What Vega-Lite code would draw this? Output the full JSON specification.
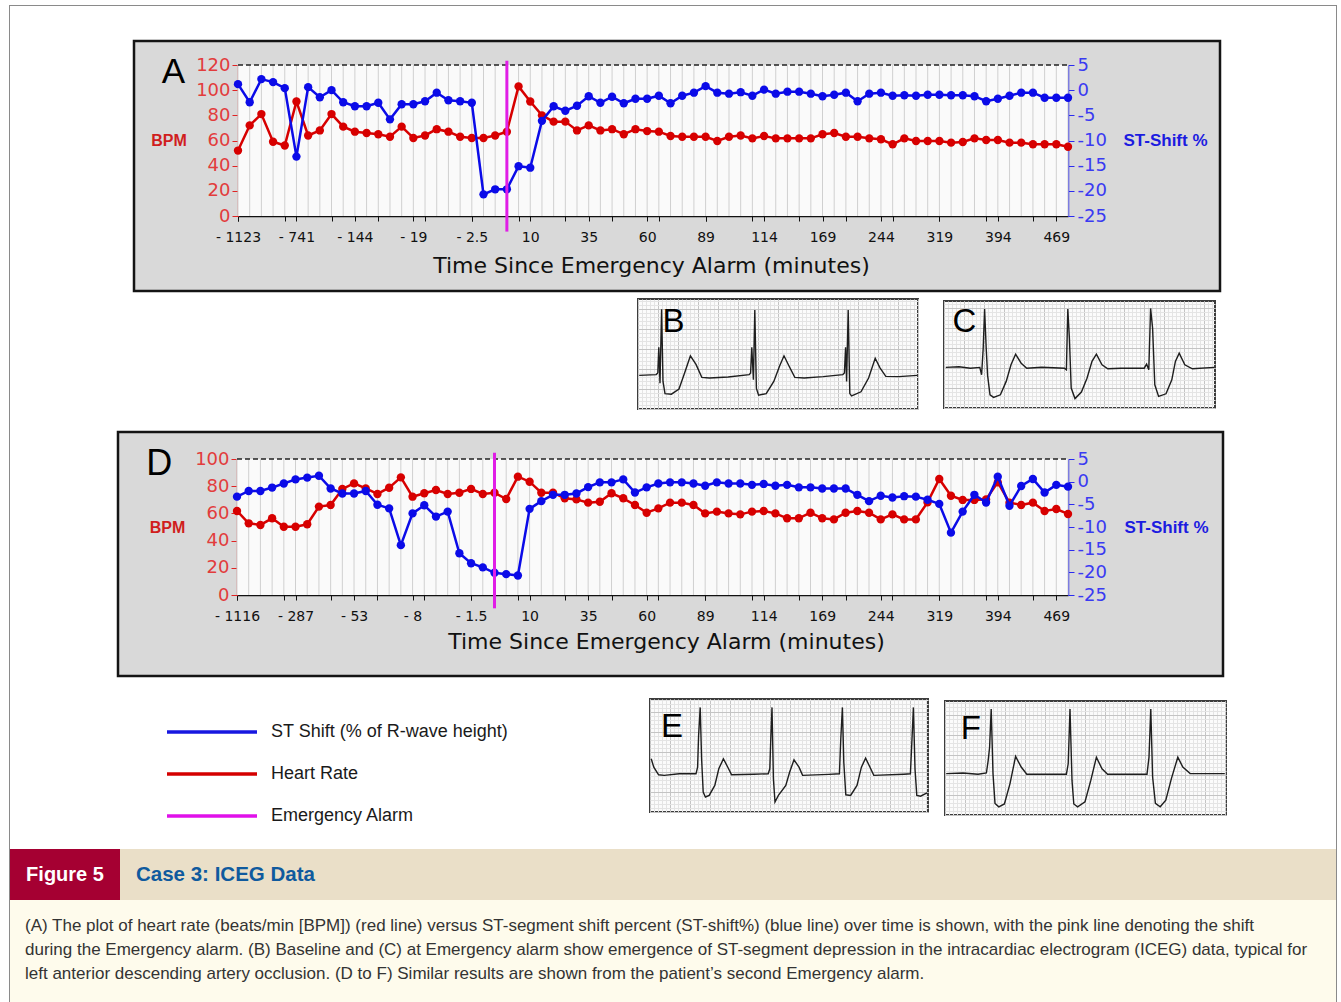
{
"$schema": "https://vega.github.io/schema/vega-lite/v6.json",
"padding": 0,
"background": "#ffffff",
"autosize": {"type": "pad"},
"config": {"view": {"stroke": null}, "font": "Liberation Sans", "concat": {"spacing": 0}},
"datasets": {
"panelA": [
{"i":0,"hr":52,"st":1.2},{"i":1,"hr":72,"st":-2.4},{"i":2,"hr":81,"st":2.2},{"i":3,"hr":59,"st":1.6},{"i":4,"hr":56,"st":0.4},{"i":5,"hr":91,"st":-13.2},{"i":6,"hr":64,"st":0.6},{"i":7,"hr":68,"st":-1.4},{"i":8,"hr":81,"st":0},{"i":9,"hr":71,"st":-2.4},
{"i":10,"hr":67,"st":-3.2},{"i":11,"hr":66,"st":-3.2},{"i":12,"hr":65,"st":-2.5},{"i":13,"hr":63,"st":-5.8},{"i":14,"hr":71,"st":-2.8},{"i":15,"hr":62,"st":-2.8},{"i":16,"hr":64,"st":-2.2},{"i":17,"hr":69,"st":-0.5},{"i":18,"hr":67,"st":-2},{"i":19,"hr":63,"st":-2.2},
{"i":20,"hr":62,"st":-2.5},{"i":21,"hr":62,"st":-20.7},{"i":22,"hr":64,"st":-19.7},{"i":23,"hr":67,"st":-19.7},{"i":24,"hr":103,"st":-15.1},{"i":25,"hr":91,"st":-15.4},{"i":26,"hr":80,"st":-6.1},{"i":27,"hr":75,"st":-3.2},{"i":28,"hr":75,"st":-4.1},{"i":29,"hr":68,"st":-3.1},
{"i":30,"hr":72,"st":-1.2},{"i":31,"hr":68,"st":-2.5},{"i":32,"hr":69,"st":-1.3},{"i":33,"hr":65,"st":-2.6},{"i":34,"hr":69,"st":-1.7},{"i":35,"hr":67.5,"st":-1.7},{"i":36,"hr":67,"st":-1.1},{"i":37,"hr":63.6,"st":-2.6},{"i":38,"hr":63,"st":-1.1},{"i":39,"hr":63,"st":-0.5},
{"i":40,"hr":63,"st":0.8},{"i":41,"hr":59.6,"st":-0.5},{"i":42,"hr":63,"st":-0.7},{"i":43,"hr":64,"st":-0.4},{"i":44,"hr":61.7,"st":-1.1},{"i":45,"hr":63.6,"st":0.1},{"i":46,"hr":61.7,"st":-0.7},{"i":47,"hr":61.7,"st":-0.3},{"i":48,"hr":61.7,"st":-0.3},{"i":49,"hr":61.7,"st":-0.7},
{"i":50,"hr":65,"st":-1.2},{"i":51,"hr":66,"st":-0.9},{"i":52,"hr":63,"st":-0.5},{"i":53,"hr":63,"st":-2.2},{"i":54,"hr":61.7,"st":-0.7},{"i":55,"hr":61,"st":-0.5},{"i":56,"hr":57,"st":-1.1},{"i":57,"hr":61.7,"st":-1.0},{"i":58,"hr":59.6,"st":-1.1},{"i":59,"hr":59.6,"st":-0.9},
{"i":60,"hr":59.6,"st":-0.9},{"i":61,"hr":58.3,"st":-1.0},{"i":62,"hr":58.8,"st":-1.0},{"i":63,"hr":61.7,"st":-1.2},{"i":64,"hr":60.4,"st":-2.2},{"i":65,"hr":60.4,"st":-1.7},{"i":66,"hr":58.3,"st":-1.1},{"i":67,"hr":58.3,"st":-0.5},{"i":68,"hr":57,"st":-0.5},{"i":69,"hr":57,"st":-1.5},
{"i":70,"hr":57,"st":-1.5},{"i":71,"hr":55,"st":-1.5}
],
"panelD": [
{"i":0,"hr":61.8,"st":-3.3},{"i":1,"hr":52.7,"st":-2.05},{"i":2,"hr":51.5,"st":-2.05},{"i":3,"hr":56.4,"st":-1.3},{"i":4,"hr":50.2,"st":-0.4},{"i":5,"hr":50.2,"st":0.5},{"i":6,"hr":52,"st":0.9},{"i":7,"hr":65,"st":1.3},{"i":8,"hr":66.2,"st":-1.5},{"i":9,"hr":78,"st":-2.6},
{"i":10,"hr":82.1,"st":-2.6},{"i":11,"hr":78.4,"st":-2.05},{"i":12,"hr":74.3,"st":-5.1},{"i":13,"hr":78.9,"st":-5.9},{"i":14,"hr":86.5,"st":-14.0},{"i":15,"hr":72.3,"st":-7.0},{"i":16,"hr":74.8,"st":-5.2},{"i":17,"hr":77.2,"st":-7.7},{"i":18,"hr":74.3,"st":-6.6},{"i":19,"hr":75.2,"st":-15.8},
{"i":20,"hr":78,"st":-18.0},{"i":21,"hr":74.3,"st":-18.9},{"i":22,"hr":75.2,"st":-20.1},{"i":23,"hr":70.6,"st":-20.4},{"i":24,"hr":87,"st":-20.7},{"i":25,"hr":83.3,"st":-6.0},{"i":26,"hr":75.2,"st":-4.3},{"i":27,"hr":75.2,"st":-2.9},{"i":28,"hr":71.1,"st":-2.9},{"i":29,"hr":70.3,"st":-2.6},
{"i":30,"hr":67.9,"st":-1.2},{"i":31,"hr":68.6,"st":-0.15},{"i":32,"hr":74.8,"st":-0.15},{"i":33,"hr":71.1,"st":0.5},{"i":34,"hr":66.2,"st":-2.4},{"i":35,"hr":60.5,"st":-1.25},{"i":36,"hr":63.7,"st":-0.4},{"i":37,"hr":67.9,"st":-0.15},{"i":38,"hr":67.9,"st":-0.15},{"i":39,"hr":66.2,"st":-0.4},
{"i":40,"hr":60,"st":-0.9},{"i":41,"hr":61.3,"st":-0.15},{"i":42,"hr":60,"st":-0.4},{"i":43,"hr":59.3,"st":-0.4},{"i":44,"hr":61.3,"st":-0.7},{"i":45,"hr":61.8,"st":-0.5},{"i":46,"hr":60,"st":-0.9},{"i":47,"hr":56.4,"st":-0.7},{"i":48,"hr":56.4,"st":-1.25},{"i":49,"hr":60.5,"st":-1.25},
{"i":50,"hr":56.4,"st":-1.5},{"i":51,"hr":55.6,"st":-1.5},{"i":52,"hr":60.5,"st":-1.5},{"i":53,"hr":61.8,"st":-2.9},{"i":54,"hr":60.5,"st":-4.3},{"i":55,"hr":55.6,"st":-3.1},{"i":56,"hr":59.3,"st":-3.5},{"i":57,"hr":55.6,"st":-3.2},{"i":58,"hr":55.6,"st":-3.3},{"i":59,"hr":68.1,"st":-4.0},
{"i":60,"hr":85.3,"st":-4.9},{"i":61,"hr":73,"st":-11.25},{"i":62,"hr":69.9,"st":-6.6},{"i":63,"hr":69.9,"st":-2.9},{"i":64,"hr":70.3,"st":-4.6},{"i":65,"hr":82.8,"st":1.1},{"i":66,"hr":67.9,"st":-5.3},{"i":67,"hr":66.2,"st":-0.95},{"i":68,"hr":67.9,"st":0.6},{"i":69,"hr":61.8,"st":-2.4},
{"i":70,"hr":63.2,"st":-0.7},{"i":71,"hr":59.6,"st":-1.1}
],
"ecgB": [
{"t":0.6,"v":16.8},{"t":9.1,"v":17.2},{"t":9.9,"v":18.0},{"t":10.4,"v":30.9},{"t":11.0,"v":12.9},{"t":11.8,"v":49.9},{"t":12.5,"v":13.8},{"t":13.5,"v":7.7},{"t":16.7,"v":7.4},{"t":20.5,"v":10.0},{"t":23.3,"v":18.0},{"t":26.2,"v":26.6},{"t":29.0,"v":22.3},{"t":31.9,"v":15.8},{"t":35.7,"v":15.5},{"t":45.1,"v":16.0},{"t":55.6,"v":17.2},{"t":56.3,"v":18.0},{"t":56.9,"v":30.9},{"t":57.7,"v":14.6},{"t":58.4,"v":49.5},{"t":59.2,"v":10.3},{"t":60.3,"v":6.9},{"t":64.1,"v":7.7},{"t":67.9,"v":13.8},{"t":70.8,"v":21.5},{"t":73.0,"v":26.6},{"t":75.5,"v":21.5},{"t":78.4,"v":15.8},{"t":83.1,"v":15.5},{"t":92.6,"v":16.2},{"t":102.4,"v":17.2},{"t":103.2,"v":18.0},{"t":103.8,"v":30.9},{"t":104.3,"v":13.8},{"t":105.1,"v":49.5},{"t":105.9,"v":7.7},{"t":106.8,"v":6.5},{"t":111.5,"v":8.6},{"t":115.3,"v":15.5},{"t":118.6,"v":25.4},{"t":121.0,"v":20.6},{"t":123.9,"v":16.3},{"t":130.5,"v":16.2},{"t":139.6,"v":16.8}
],
"ecgC": [
{"t":0.9,"v":20.3},{"t":7.5,"v":20.6},{"t":13.2,"v":19.9},{"t":17.9,"v":20.3},{"t":18.8,"v":16.6},{"t":19.6,"v":29.9},{"t":20.3,"v":49.5},{"t":21.1,"v":29.9},{"t":21.8,"v":16.3},{"t":23.0,"v":6.6},{"t":24.8,"v":5.3},{"t":28.2,"v":6.6},{"t":31.1,"v":13.3},{"t":33.5,"v":21.6},{"t":35.8,"v":26.9},{"t":38.6,"v":22.4},{"t":41.4,"v":19.9},{"t":48.9,"v":20.4},{"t":60.2,"v":19.9},{"t":61.2,"v":19.1},{"t":61.9,"v":49.5},{"t":62.7,"v":34.9},{"t":63.6,"v":10.0},{"t":65.5,"v":4.7},{"t":68.7,"v":8.0},{"t":71.5,"v":14.9},{"t":74.0,"v":23.3},{"t":76.2,"v":26.9},{"t":79.0,"v":21.6},{"t":81.9,"v":19.6},{"t":88.5,"v":19.9},{"t":100.1,"v":19.9},{"t":101.3,"v":21.9},{"t":102.4,"v":19.1},{"t":103.3,"v":49.8},{"t":104.3,"v":39.9},{"t":105.4,"v":11.6},{"t":107.3,"v":5.8},{"t":111.0,"v":7.1},{"t":113.9,"v":14.1},{"t":115.7,"v":23.3},{"t":117.6,"v":27.4},{"t":120.4,"v":21.6},{"t":124.2,"v":19.6},{"t":135.1,"v":20.3}
],
"ecgE": [
{"t":0.6,"v":26.6},{"t":1.9,"v":22.4},{"t":4.3,"v":18.6},{"t":7.1,"v":18.3},{"t":14.6,"v":19.1},{"t":23.0,"v":19.1},{"t":23.8,"v":22.4},{"t":24.3,"v":38.2},{"t":25.1,"v":52.3},{"t":25.8,"v":26.6},{"t":26.6,"v":10.0},{"t":27.7,"v":7.5},{"t":29.6,"v":8.3},{"t":32.4,"v":13.3},{"t":34.4,"v":21.6},{"t":36.7,"v":26.6},{"t":38.9,"v":22.4},{"t":40.8,"v":18.6},{"t":52.0,"v":18.9},{"t":59.1,"v":19.1},{"t":59.9,"v":21.6},{"t":60.4,"v":36.6},{"t":61.0,"v":52.3},{"t":61.7,"v":16.6},{"t":62.5,"v":5.0},{"t":64.2,"v":8.3},{"t":67.9,"v":13.3},{"t":69.8,"v":19.9},{"t":72.0,"v":26.1},{"t":74.5,"v":22.4},{"t":76.3,"v":18.3},{"t":89.4,"v":18.8},{"t":94.7,"v":19.1},{"t":95.4,"v":36.6},{"t":96.2,"v":52.3},{"t":96.9,"v":24.9},{"t":97.9,"v":8.6},{"t":100.3,"v":8.3},{"t":103.5,"v":13.3},{"t":105.7,"v":22.4},{"t":107.8,"v":26.9},{"t":110.0,"v":22.4},{"t":111.9,"v":18.3},{"t":126.9,"v":18.9},{"t":130.2,"v":19.1},{"t":131.0,"v":36.6},{"t":131.7,"v":52.3},{"t":132.5,"v":21.6},{"t":133.4,"v":8.3},{"t":135.3,"v":7.9},{"t":138.5,"v":9.6}
],
"ecgF": [
{"t":0.6,"v":20.7},{"t":9.0,"v":21.0},{"t":16.5,"v":20.4},{"t":20.7,"v":21.0},{"t":21.6,"v":27.3},{"t":22.3,"v":33.9},{"t":23.1,"v":53.0},{"t":24.0,"v":20.7},{"t":25.0,"v":5.8},{"t":26.9,"v":4.1},{"t":29.7,"v":5.5},{"t":32.5,"v":15.7},{"t":35.3,"v":29.3},{"t":38.1,"v":24.0},{"t":40.9,"v":20.4},{"t":60.7,"v":20.4},{"t":61.6,"v":25.6},{"t":62.5,"v":53.0},{"t":63.5,"v":17.3},{"t":64.4,"v":5.5},{"t":66.3,"v":4.1},{"t":70.0,"v":6.6},{"t":72.9,"v":17.3},{"t":75.7,"v":28.9},{"t":78.5,"v":23.1},{"t":81.3,"v":20.4},{"t":101.0,"v":20.4},{"t":102.0,"v":28.9},{"t":102.9,"v":53.0},{"t":103.8,"v":19.0},{"t":105.2,"v":5.8},{"t":107.6,"v":4.1},{"t":110.4,"v":7.4},{"t":113.2,"v":18.2},{"t":116.4,"v":28.9},{"t":118.9,"v":24.0},{"t":122.6,"v":20.7},{"t":139.9,"v":20.7}
],
"caption": [
{"line":1,"text":"(A) The plot of heart rate (beats/min [BPM]) (red line) versus ST-segment shift percent (ST-shift%) (blue line) over time is shown, with the pink line denoting the shift"},
{"line":2,"text":"during the Emergency alarm. (B) Baseline and (C) at Emergency alarm show emergence of ST-segment depression in the intracardiac electrogram (ICEG) data, typical for"},
{"line":3,"text":"left anterior descending artery occlusion. (D to F) Similar results are shown from the patient’s second Emergency alarm."}
]
},
"spacing": 0,
"hconcat": [
{"width": 9, "height": 1, "data": {"values": []}, "mark": "point"},
{"spacing": 0, "vconcat": [
  {"width": 1, "height": 5, "data": {"values": []}, "mark": "point"},
  {"width": 1, "height": 997, "data": {"values": []}, "mark": "point", "view": {"fill": "#8a8a8a"}}
]},
{"spacing": 0, "vconcat": [
  {"width": 1326, "height": 5, "data": {"values": []}, "mark": "point"},
  {"width": 1326, "height": 1, "data": {"values": []}, "mark": "point", "view": {"fill": "#8a8a8a"}},
  {"width": 10, "height": 33, "data": {"values": []}, "mark": "point"},
  {"spacing": 0, "hconcat": [
    {"width": 122, "height": 10, "data": {"values": []}, "mark": "point"},
    {"width": 1086, "height": 250, "view": {"fill": "#d9d9d9", "stroke": "#141414", "strokeWidth": 2.5}, "data": {"name": "panelA"},
     "layer": [
      {"layer": [
        {"data": {"values": [{}]}, "mark": {"type": "rect", "fill": "#fafafa"},
         "encoding": {"x": {"datum": 0, "type": "quantitative", "scale": {"domain": [0, 71], "range": [104, 934], "nice": false, "zero": false}}, "x2": {"datum": 71},
                      "y": {"datum": 0, "type": "quantitative", "scale": {"domain": [0, 120], "range": [175, 24], "nice": false, "zero": false}}, "y2": {"datum": 120}}},
        {"mark": {"type": "rule", "color": "#d0d0d0", "strokeWidth": 1},
         "encoding": {"x": {"field": "i", "type": "quantitative", "scale": {"domain": [0, 71], "range": [104, 934], "nice": false, "zero": false}},
                      "y": {"datum": 0, "type": "quantitative", "scale": {"domain": [0, 120], "range": [175, 24], "nice": false, "zero": false}}, "y2": {"datum": 120}}},
        {"data": {"values": [{}]}, "mark": {"type": "rule", "color": "#222222", "strokeWidth": 1.5, "strokeDash": [5, 3]},
         "encoding": {"x": {"datum": 0, "type": "quantitative", "scale": {"domain": [0, 71], "range": [104, 934], "nice": false, "zero": false}}, "x2": {"datum": 71},
                      "y": {"datum": 120, "type": "quantitative", "scale": {"domain": [0, 120], "range": [175, 24], "nice": false, "zero": false}}}},
        {"data": {"values": [{}]}, "mark": {"type": "text", "text": "A", "font": "Liberation Sans", "fontSize": 35, "color": "#000000", "align": "center", "baseline": "middle"},
         "encoding": {"x": {"datum": -5.52, "type": "quantitative", "scale": {"domain": [0, 71], "range": [104, 934], "nice": false, "zero": false}},
                      "y": {"datum": 114.8, "type": "quantitative", "scale": {"domain": [0, 120], "range": [175, 24], "nice": false, "zero": false}}}},
        {"mark": {"type": "line", "color": "#d70000", "strokeWidth": 2.5, "point": {"filled": true, "size": 70, "color": "#d70000"}},
         "encoding": {
           "x": {"field": "i", "type": "quantitative", "scale": {"domain": [0, 71], "range": [104, 934], "nice": false, "zero": false},
                 "axis": {"orient": "bottom", "offset": -75, "values": [0,5,10,15,20,25,30,35,40,45,50,55,60,65,70],
                          "labelExpr": "['- 1123','- 741','- 144','- 19','- 2.5','10','35','60','89','114','169','244','319','394','469'][round(datum.value / 5)]",
                          "grid": false, "domainColor": "#111111", "domainWidth": 1.5, "tickColor": "#111111", "tickSize": 5,
                          "labelColor": "#111111", "labelFont": "DejaVu Sans", "labelFontSize": 14, "labelPadding": 9, "labelFlush": false, "labelOverlap": false, "labelBound": false,
                          "title": "Time Since Emergency Alarm (minutes)", "titleColor": "#111111", "titleFont": "DejaVu Sans", "titleFontSize": 22, "titleFontWeight": "normal",
                          "titleAlign": "center", "titleBaseline": "middle", "titleX": 517, "titleY": 49}},
           "y": {"field": "hr", "type": "quantitative", "scale": {"domain": [0, 120], "range": [175, 24], "nice": false, "zero": false},
                 "axis": {"orient": "left", "offset": -104, "values": [0,20,40,60,80,100,120], "grid": false, "domainColor": "#e02424", "domainWidth": 1.5, "tickColor": "#e02424", "tickSize": 6,
                          "labelColor": "#e23c3c", "labelFont": "DejaVu Sans", "labelFontSize": 18, "labelPadding": 2, "labelFlush": false, "labelOverlap": false,
                          "title": "BPM", "titleColor": "#d01e1e", "titleFont": "Liberation Sans", "titleFontSize": 16, "titleFontWeight": "bold", "titleAngle": 0,
                          "titleAlign": "center", "titleBaseline": "middle", "titleX": -69.5, "titleY": 99}}}}
      ]},
      {"layer": [
        {"mark": {"type": "line", "color": "#0b0be8", "strokeWidth": 2.5, "point": {"filled": true, "size": 70, "color": "#0b0be8"}},
         "encoding": {
           "x": {"field": "i", "type": "quantitative", "scale": {"domain": [0, 71], "range": [104, 934], "nice": false, "zero": false},
                 "axis": {"orient": "bottom", "offset": -75, "values": [0,1,2,3,4,5,6,7,8,9,10,11,12,13,14,15,16,17,18,19,20,21,22,23,24,25,26,27,28,29,30,31,32,33,34,35,36,37,38,39,40,41,42,43,44,45,46,47,48,49,50,51,52,53,54,55,56,57,58,59,60,61,62,63,64,65,66,67,68,69,70,71],
                          "labels": false, "domain": false, "grid": false, "ticks": true, "tickColor": "#111111", "tickSize": 5, "title": null}},
           "y": {"field": "st", "type": "quantitative", "scale": {"domain": [-25, 5], "range": [175, 24], "nice": false, "zero": false},
                 "axis": {"orient": "right", "offset": -152, "values": [-25,-20,-15,-10,-5,0,5], "labelExpr": "datum.value < 0 ? '-' + (-datum.value) : '' + datum.value",
                          "grid": false, "domainColor": "#2a2af0", "domainWidth": 1.5, "tickColor": "#2a2af0", "tickSize": 6,
                          "labelColor": "#3a3af2", "labelFont": "DejaVu Sans", "labelFontSize": 18, "labelPadding": 3, "labelFlush": false, "labelOverlap": false,
                          "title": "ST-Shift %", "titleColor": "#1c1ce0", "titleFont": "Liberation Sans", "titleFontSize": 17, "titleFontWeight": "bold", "titleAngle": 0,
                          "titleAlign": "center", "titleBaseline": "middle", "titleX": 97, "titleY": 99}}}},
        {"data": {"values": [{}]}, "mark": {"type": "rule", "color": "#e01ee6", "strokeWidth": 3},
         "encoding": {"x": {"datum": 23, "type": "quantitative", "scale": {"domain": [0, 71], "range": [104, 934], "nice": false, "zero": false}},
                      "y": {"datum": -28.1, "type": "quantitative", "scale": {"domain": [-25, 5], "range": [175, 24], "nice": false, "zero": false}}, "y2": {"datum": 5.85}}}
      ]}
     ],
     "resolve": {"scale": {"y": "independent"}, "axis": {"x": "independent"}}
    }
  ]},
  {"width": 10, "height": 4.5, "data": {"values": []}, "mark": "point"},
  {"spacing": 0, "hconcat": [
    {"width": 625, "height": 10, "data": {"values": []}, "mark": "point"},
    {"width": 280, "height": 110, "view": {"fill": "#fbfbfb", "stroke": "#3c3c3c", "strokeWidth": 2}, "data": {"name": "ecgB"},
     "layer": [
       {"mark": {"type": "line", "opacity": 0},
        "encoding": {"x": {"field": "t", "type": "quantitative", "scale": {"domain": [0, 140], "nice": false, "zero": false}, "axis": {"grid": true, "gridColor": "#e4e4e4", "tickCount": 70, "domain": false, "ticks": false, "labels": false, "title": null}},
                     "y": {"field": "v", "type": "quantitative", "scale": {"domain": [0, 55], "nice": false, "zero": false}, "axis": {"grid": true, "gridColor": "#e4e4e4", "tickCount": 27, "domain": false, "ticks": false, "labels": false, "title": null}}}},
       {"mark": {"type": "line", "color": "#1e1e1e", "strokeWidth": 1.4},
        "encoding": {"x": {"field": "t", "type": "quantitative", "scale": {"domain": [0, 140], "nice": false, "zero": false}, "axis": {"grid": true, "gridColor": "#c4c4c4", "tickCount": 14, "domain": false, "ticks": false, "labels": false, "title": null}},
                     "y": {"field": "v", "type": "quantitative", "scale": {"domain": [0, 55], "nice": false, "zero": false}, "axis": {"grid": true, "gridColor": "#c4c4c4", "tickCount": 5, "domain": false, "ticks": false, "labels": false, "title": null}}}},
       {"data": {"values": [{}]}, "mark": {"type": "text", "text": "B", "font": "Liberation Sans", "fontSize": 33, "color": "#000000", "align": "center", "baseline": "middle"},
        "encoding": {"x": {"datum": 17.75, "type": "quantitative", "axis": null}, "y": {"datum": 43.5, "type": "quantitative", "axis": null}}}
     ],
     "resolve": {"axis": {"x": "independent", "y": "independent"}}
    },
    {"width": 21, "height": 10, "data": {"values": []}, "mark": "point"},
    {"spacing": 0, "vconcat": [
      {"width": 10, "height": 1, "data": {"values": []}, "mark": "point"},
      {"width": 271, "height": 107, "view": {"fill": "#fbfbfb", "stroke": "#3c3c3c", "strokeWidth": 2}, "data": {"name": "ecgC"},
       "layer": [
         {"mark": {"type": "line", "opacity": 0},
          "encoding": {"x": {"field": "t", "type": "quantitative", "scale": {"domain": [0, 135.5], "nice": false, "zero": false}, "axis": {"grid": true, "gridColor": "#e4e4e4", "tickCount": 68, "domain": false, "ticks": false, "labels": false, "title": null}},
                       "y": {"field": "v", "type": "quantitative", "scale": {"domain": [0, 53.5], "nice": false, "zero": false}, "axis": {"grid": true, "gridColor": "#e4e4e4", "tickCount": 27, "domain": false, "ticks": false, "labels": false, "title": null}}}},
         {"mark": {"type": "line", "color": "#1e1e1e", "strokeWidth": 1.4},
          "encoding": {"x": {"field": "t", "type": "quantitative", "scale": {"domain": [0, 135.5], "nice": false, "zero": false}, "axis": {"grid": true, "gridColor": "#c4c4c4", "tickCount": 14, "domain": false, "ticks": false, "labels": false, "title": null}},
                       "y": {"field": "v", "type": "quantitative", "scale": {"domain": [0, 53.5], "nice": false, "zero": false}, "axis": {"grid": true, "gridColor": "#c4c4c4", "tickCount": 5, "domain": false, "ticks": false, "labels": false, "title": null}}}},
         {"data": {"values": [{}]}, "mark": {"type": "text", "text": "C", "font": "Liberation Sans", "fontSize": 33, "color": "#000000", "align": "center", "baseline": "middle"},
          "encoding": {"x": {"datum": 10.25, "type": "quantitative", "axis": null}, "y": {"datum": 43, "type": "quantitative", "axis": null}}}
       ],
       "resolve": {"axis": {"x": "independent", "y": "independent"}}
      }
    ]}
  ]},
  {"width": 10, "height": 20, "data": {"values": []}, "mark": "point"},
  {"spacing": 0, "hconcat": [
    {"width": 106, "height": 10, "data": {"values": []}, "mark": "point"},
    {"width": 1105, "height": 244, "view": {"fill": "#d9d9d9", "stroke": "#141414", "strokeWidth": 2.5}, "data": {"name": "panelD"},
     "layer": [
      {"layer": [
        {"data": {"values": [{}]}, "mark": {"type": "rect", "fill": "#fafafa"},
         "encoding": {"x": {"datum": 0, "type": "quantitative", "scale": {"domain": [0, 71], "range": [119, 950], "nice": false, "zero": false}}, "x2": {"datum": 71},
                      "y": {"datum": 0, "type": "quantitative", "scale": {"domain": [0, 100], "range": [163, 27], "nice": false, "zero": false}}, "y2": {"datum": 100}}},
        {"mark": {"type": "rule", "color": "#d0d0d0", "strokeWidth": 1},
         "encoding": {"x": {"field": "i", "type": "quantitative", "scale": {"domain": [0, 71], "range": [119, 950], "nice": false, "zero": false}},
                      "y": {"datum": 0, "type": "quantitative", "scale": {"domain": [0, 100], "range": [163, 27], "nice": false, "zero": false}}, "y2": {"datum": 100}}},
        {"data": {"values": [{}]}, "mark": {"type": "rule", "color": "#222222", "strokeWidth": 1.5, "strokeDash": [5, 3]},
         "encoding": {"x": {"datum": 0, "type": "quantitative", "scale": {"domain": [0, 71], "range": [119, 950], "nice": false, "zero": false}}, "x2": {"datum": 71},
                      "y": {"datum": 100, "type": "quantitative", "scale": {"domain": [0, 100], "range": [163, 27], "nice": false, "zero": false}}}},
        {"data": {"values": [{}]}, "mark": {"type": "text", "text": "D", "font": "Liberation Sans", "fontSize": 36, "color": "#000000", "align": "center", "baseline": "middle"},
         "encoding": {"x": {"datum": -6.64, "type": "quantitative", "scale": {"domain": [0, 71], "range": [119, 950], "nice": false, "zero": false}},
                      "y": {"datum": 96.5, "type": "quantitative", "scale": {"domain": [0, 100], "range": [163, 27], "nice": false, "zero": false}}}},
        {"mark": {"type": "line", "color": "#d70000", "strokeWidth": 2.5, "point": {"filled": true, "size": 70, "color": "#d70000"}},
         "encoding": {
           "x": {"field": "i", "type": "quantitative", "scale": {"domain": [0, 71], "range": [119, 950], "nice": false, "zero": false},
                 "axis": {"orient": "bottom", "offset": -81, "values": [0,5,10,15,20,25,30,35,40,45,50,55,60,65,70],
                          "labelExpr": "['- 1116','- 287','- 53','- 8','- 1.5','10','35','60','89','114','169','244','319','394','469'][round(datum.value / 5)]",
                          "grid": false, "domainColor": "#111111", "domainWidth": 1.5, "tickColor": "#111111", "tickSize": 5,
                          "labelColor": "#111111", "labelFont": "DejaVu Sans", "labelFontSize": 14, "labelPadding": 9, "labelFlush": false, "labelOverlap": false, "labelBound": false,
                          "title": "Time Since Emergency Alarm (minutes)", "titleColor": "#111111", "titleFont": "DejaVu Sans", "titleFontSize": 22, "titleFontWeight": "normal",
                          "titleAlign": "center", "titleBaseline": "middle", "titleX": 548, "titleY": 46}},
           "y": {"field": "hr", "type": "quantitative", "scale": {"domain": [0, 100], "range": [163, 27], "nice": false, "zero": false},
                 "axis": {"orient": "left", "offset": -119, "values": [0,20,40,60,80,100], "grid": false, "domainColor": "#e02424", "domainWidth": 1.5, "tickColor": "#e02424", "tickSize": 6,
                          "labelColor": "#e23c3c", "labelFont": "DejaVu Sans", "labelFontSize": 18, "labelPadding": 2, "labelFlush": false, "labelOverlap": false,
                          "title": "BPM", "titleColor": "#d01e1e", "titleFont": "Liberation Sans", "titleFontSize": 16, "titleFontWeight": "bold", "titleAngle": 0,
                          "titleAlign": "center", "titleBaseline": "middle", "titleX": -70, "titleY": 95}}}}
      ]},
      {"layer": [
        {"mark": {"type": "line", "color": "#0b0be8", "strokeWidth": 2.5, "point": {"filled": true, "size": 70, "color": "#0b0be8"}},
         "encoding": {
           "x": {"field": "i", "type": "quantitative", "scale": {"domain": [0, 71], "range": [119, 950], "nice": false, "zero": false},
                 "axis": {"orient": "bottom", "offset": -81, "values": [0,1,2,3,4,5,6,7,8,9,10,11,12,13,14,15,16,17,18,19,20,21,22,23,24,25,26,27,28,29,30,31,32,33,34,35,36,37,38,39,40,41,42,43,44,45,46,47,48,49,50,51,52,53,54,55,56,57,58,59,60,61,62,63,64,65,66,67,68,69,70,71],
                          "labels": false, "domain": false, "grid": false, "ticks": true, "tickColor": "#111111", "tickSize": 5, "title": null}},
           "y": {"field": "st", "type": "quantitative", "scale": {"domain": [-25, 5], "range": [163, 27], "nice": false, "zero": false},
                 "axis": {"orient": "right", "offset": -155, "values": [-25,-20,-15,-10,-5,0,5], "labelExpr": "datum.value < 0 ? '-' + (-datum.value) : '' + datum.value",
                          "grid": false, "domainColor": "#2a2af0", "domainWidth": 1.5, "tickColor": "#2a2af0", "tickSize": 6,
                          "labelColor": "#3a3af2", "labelFont": "DejaVu Sans", "labelFontSize": 18, "labelPadding": 3, "labelFlush": false, "labelOverlap": false,
                          "title": "ST-Shift %", "titleColor": "#1c1ce0", "titleFont": "Liberation Sans", "titleFontSize": 17, "titleFontWeight": "bold", "titleAngle": 0,
                          "titleAlign": "center", "titleBaseline": "middle", "titleX": 98, "titleY": 95}}}},
        {"data": {"values": [{}]}, "mark": {"type": "rule", "color": "#e01ee6", "strokeWidth": 3},
         "encoding": {"x": {"datum": 22, "type": "quantitative", "scale": {"domain": [0, 71], "range": [119, 950], "nice": false, "zero": false}},
                      "y": {"datum": -27.94, "type": "quantitative", "scale": {"domain": [-25, 5], "range": [163, 27], "nice": false, "zero": false}}, "y2": {"datum": 6.38}}}
      ]}
     ],
     "resolve": {"scale": {"y": "independent"}, "axis": {"x": "independent"}}
    }
  ]},
  {"width": 10, "height": 19.5, "data": {"values": []}, "mark": "point"},
  {"spacing": 0, "hconcat": [
    {"width": 155, "height": 10, "data": {"values": []}, "mark": "point"},
    {"spacing": 0, "vconcat": [
      {"width": 10, "height": 12, "data": {"values": []}, "mark": "point"},
      {"width": 355, "height": 126,
       "data": {"values": [{"item": "ST Shift (% of R-wave height)"}, {"item": "Heart Rate"}, {"item": "Emergency Alarm"}]},
       "layer": [
         {"mark": {"type": "rule", "strokeWidth": 3.5},
          "encoding": {"x": {"datum": 0, "type": "quantitative", "scale": {"domain": [0, 355], "nice": false, "zero": false}, "axis": null}, "x2": {"datum": 90},
                       "y": {"field": "item", "type": "nominal", "scale": {"type": "point", "padding": 0.5, "domain": ["ST Shift (% of R-wave height)", "Heart Rate", "Emergency Alarm"]}, "axis": null},
                       "color": {"field": "item", "type": "nominal", "scale": {"domain": ["ST Shift (% of R-wave height)", "Heart Rate", "Emergency Alarm"], "range": ["#1717e0", "#d40000", "#e010ea"]}, "legend": null}}},
         {"mark": {"type": "text", "align": "left", "baseline": "middle", "font": "Liberation Sans", "fontSize": 18, "color": "#1a1a1a"},
          "encoding": {"x": {"datum": 104, "type": "quantitative", "scale": {"domain": [0, 355], "nice": false, "zero": false}, "axis": null},
                       "y": {"field": "item", "type": "nominal", "scale": {"type": "point", "padding": 0.5, "domain": ["ST Shift (% of R-wave height)", "Heart Rate", "Emergency Alarm"]}, "axis": null},
                       "text": {"field": "item", "type": "nominal"}}}
       ]
      }
    ]},
    {"width": 125, "height": 10, "data": {"values": []}, "mark": "point"},
    {"width": 278, "height": 113, "view": {"fill": "#fbfbfb", "stroke": "#3c3c3c", "strokeWidth": 2}, "data": {"name": "ecgE"},
     "layer": [
       {"mark": {"type": "line", "opacity": 0},
        "encoding": {"x": {"field": "t", "type": "quantitative", "scale": {"domain": [0, 139], "nice": false, "zero": false}, "axis": {"grid": true, "gridColor": "#e4e4e4", "tickCount": 70, "domain": false, "ticks": false, "labels": false, "title": null}},
                     "y": {"field": "v", "type": "quantitative", "scale": {"domain": [0, 56.5], "nice": false, "zero": false}, "axis": {"grid": true, "gridColor": "#e4e4e4", "tickCount": 28, "domain": false, "ticks": false, "labels": false, "title": null}}}},
       {"mark": {"type": "line", "color": "#1e1e1e", "strokeWidth": 1.4},
        "encoding": {"x": {"field": "t", "type": "quantitative", "scale": {"domain": [0, 139], "nice": false, "zero": false}, "axis": {"grid": true, "gridColor": "#c4c4c4", "tickCount": 14, "domain": false, "ticks": false, "labels": false, "title": null}},
                     "y": {"field": "v", "type": "quantitative", "scale": {"domain": [0, 56.5], "nice": false, "zero": false}, "axis": {"grid": true, "gridColor": "#c4c4c4", "tickCount": 5, "domain": false, "ticks": false, "labels": false, "title": null}}}},
       {"data": {"values": [{}]}, "mark": {"type": "text", "text": "E", "font": "Liberation Sans", "fontSize": 33, "color": "#000000", "align": "center", "baseline": "middle"},
        "encoding": {"x": {"datum": 11, "type": "quantitative", "axis": null}, "y": {"datum": 42.5, "type": "quantitative", "axis": null}}}
     ],
     "resolve": {"axis": {"x": "independent", "y": "independent"}}
    },
    {"width": 11, "height": 10, "data": {"values": []}, "mark": "point"},
    {"spacing": 0, "vconcat": [
      {"width": 10, "height": 1, "data": {"values": []}, "mark": "point"},
      {"width": 281, "height": 114, "view": {"fill": "#fbfbfb", "stroke": "#3c3c3c", "strokeWidth": 2}, "data": {"name": "ecgF"},
       "layer": [
         {"mark": {"type": "line", "opacity": 0},
          "encoding": {"x": {"field": "t", "type": "quantitative", "scale": {"domain": [0, 140.5], "nice": false, "zero": false}, "axis": {"grid": true, "gridColor": "#e4e4e4", "tickCount": 70, "domain": false, "ticks": false, "labels": false, "title": null}},
                       "y": {"field": "v", "type": "quantitative", "scale": {"domain": [0, 57], "nice": false, "zero": false}, "axis": {"grid": true, "gridColor": "#e4e4e4", "tickCount": 28, "domain": false, "ticks": false, "labels": false, "title": null}}}},
         {"mark": {"type": "line", "color": "#1e1e1e", "strokeWidth": 1.4},
          "encoding": {"x": {"field": "t", "type": "quantitative", "scale": {"domain": [0, 140.5], "nice": false, "zero": false}, "axis": {"grid": true, "gridColor": "#c4c4c4", "tickCount": 14, "domain": false, "ticks": false, "labels": false, "title": null}},
                       "y": {"field": "v", "type": "quantitative", "scale": {"domain": [0, 57], "nice": false, "zero": false}, "axis": {"grid": true, "gridColor": "#c4c4c4", "tickCount": 5, "domain": false, "ticks": false, "labels": false, "title": null}}}},
         {"data": {"values": [{}]}, "mark": {"type": "text", "text": "F", "font": "Liberation Sans", "fontSize": 33, "color": "#000000", "align": "center", "baseline": "middle"},
          "encoding": {"x": {"datum": 12.9, "type": "quantitative", "axis": null}, "y": {"datum": 43, "type": "quantitative", "axis": null}}}
       ],
       "resolve": {"axis": {"x": "independent", "y": "independent"}}
      }
    ]}
  ]},
  {"width": 10, "height": 12, "data": {"values": []}, "mark": "point"},
  {"spacing": 0, "hconcat": [
    {"width": 110, "height": 51, "view": {"fill": "#a50032"}, "data": {"values": [{}]},
     "mark": {"type": "text", "text": "Figure 5", "color": "#ffffff", "font": "Liberation Sans", "fontSize": 20, "fontWeight": "bold", "align": "center", "baseline": "middle"},
     "encoding": {"x": {"datum": 0.5, "type": "quantitative", "scale": {"domain": [0, 1]}, "axis": null}, "y": {"datum": 0.5, "type": "quantitative", "scale": {"domain": [0, 1]}, "axis": null}}},
    {"width": 16, "height": 51, "view": {"fill": "#eadfc8"}, "data": {"values": []}, "mark": "point"},
    {"width": 1200, "height": 51, "view": {"fill": "#eadfc8"}, "data": {"values": [{}]},
     "mark": {"type": "text", "text": "Case 3: ICEG Data", "color": "#0f5a9e", "font": "Liberation Sans", "fontSize": 20.5, "fontWeight": "bold", "align": "left", "baseline": "middle"},
     "encoding": {"x": {"datum": 0, "type": "quantitative", "scale": {"domain": [0, 1]}, "axis": null}, "y": {"datum": 0.5, "type": "quantitative", "scale": {"domain": [0, 1]}, "axis": null}}}
  ]},
  {"spacing": 0, "hconcat": [
    {"width": 15, "height": 102, "view": {"fill": "#fefbec"}, "data": {"values": []}, "mark": "point"},
    {"width": 1311, "height": 102, "view": {"fill": "#fefbec"}, "data": {"name": "caption"},
     "mark": {"type": "text", "align": "left", "baseline": "middle", "font": "Liberation Sans", "fontSize": 17, "color": "#333333"},
     "encoding": {"x": {"datum": 0, "type": "quantitative", "scale": {"domain": [0, 1]}, "axis": null},
                  "y": {"field": "line", "type": "quantitative", "scale": {"domain": [-0.0833, 4.1667], "reverse": true, "nice": false, "zero": false}, "axis": null},
                  "text": {"field": "text", "type": "nominal"}}}
  ]}
]},
{"spacing": 0, "vconcat": [
  {"width": 1, "height": 5, "data": {"values": []}, "mark": "point"},
  {"width": 1, "height": 997, "data": {"values": []}, "mark": "point", "view": {"fill": "#8a8a8a"}}
]},
{"width": 4, "height": 1, "data": {"values": []}, "mark": "point"}
]
}
